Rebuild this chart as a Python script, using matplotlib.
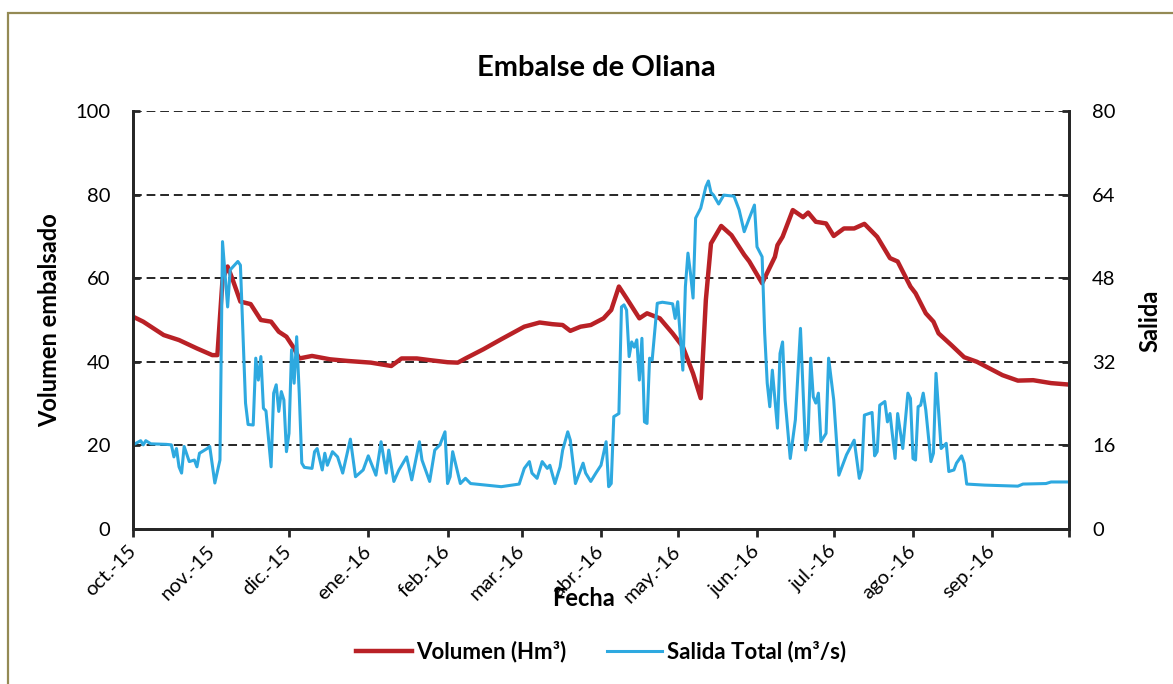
import numpy as np
import pandas as pd
import matplotlib
matplotlib.use("Agg")
import matplotlib.pyplot as plt
from matplotlib.patches import Rectangle

plt.rcParams["font.family"] = ["Lato", "DejaVu Sans"]

# days counted from 1 Oct 2015
start = pd.Timestamp("2015-10-01")

vol_days = [0, 4, 12, 18, 25, 31, 33, 35, 37, 39, 42, 46, 50, 54, 57, 60, 63, 65, 70, 77,
            84, 93, 101, 105, 111, 116, 123, 127, 130, 137, 144, 147, 153, 159, 164, 168,
            171, 175, 179, 184, 187, 190, 193, 198, 201, 206, 211, 215, 219, 222, 224, 226,
            230, 234, 239, 241, 246, 251, 252, 254, 258, 262, 264, 267, 271, 274, 278, 282,
            286, 291, 296, 299, 304, 306, 310, 313, 315, 320, 325, 330, 335, 340, 346, 352,
            359, 365]
volumen = [50.8, 49.6, 46.4, 45.2, 43.2, 41.6, 41.6, 59.6, 62.8, 59.6, 54.4, 53.8, 50.0,
           49.6, 47.2, 46.0, 43.2, 40.8, 41.4, 40.6, 40.2, 39.8, 39.0, 40.8, 40.8, 40.4,
           39.9, 39.8, 40.8, 43.0, 45.4, 46.4, 48.4, 49.4, 49.0, 48.8, 47.4, 48.4, 48.8,
           50.4, 52.4, 58.0, 55.2, 50.4, 51.6, 50.4, 46.8, 43.6, 37.2, 31.3, 54.8, 68.3,
           72.5, 70.3, 65.6, 64.0, 58.8, 65.1, 67.9, 69.9, 76.3, 74.6, 75.7, 73.5, 73.1,
           70.1, 71.9, 71.9, 73.0, 69.9, 64.8, 64.0, 58.0, 56.4, 51.6, 49.6, 46.8, 44.0,
           41.1, 40.0, 38.4, 36.8, 35.5, 35.6, 34.9, 34.6]

sal_days = [0, 3, 4, 5, 7, 13, 15, 16, 17, 18, 19, 20, 22, 24, 25, 26, 29, 30, 32, 34,
            35, 37, 38, 41, 42, 44, 45, 47, 48, 49, 50, 51, 52, 54, 55, 56, 57, 58, 59, 60,
            61, 62, 63, 64, 65, 66, 67, 70, 71, 72, 74, 75, 76, 78, 80, 82, 85, 87, 90, 92,
            95, 97, 99, 100, 102, 104, 107, 109, 112, 113, 116, 118, 120, 122, 123, 124, 125, 128, 130, 132,
            138, 144, 151, 153, 155, 156, 158, 160, 162, 163, 165, 167, 168, 170, 171, 173, 175, 176, 177, 179,
            181, 183, 185, 186, 187, 188, 190, 191, 192, 193, 194, 195, 196, 197, 198, 199, 200, 201, 202, 203,
            205, 207, 211, 212, 213, 215, 216, 217, 218, 219, 220, 222, 224, 225, 226, 227, 229, 231, 235, 237,
            239, 241, 243, 244, 246, 247, 248, 249, 250, 252, 253, 254, 255, 257, 259, 261, 263, 264, 265, 266,
            267, 268, 269, 271, 272, 274, 276, 279, 282, 284, 285, 286, 289, 290, 291, 292, 294, 295, 296, 298,
            299, 301, 303, 304, 305, 306, 307, 308, 309, 310, 312, 313, 314, 316, 318, 319, 321, 322, 324, 325,
            326, 333, 346, 348, 357, 359, 365]
salida = [16.1, 16.9, 16.1, 16.9, 16.3, 16.2, 16.1, 13.8, 15.4, 11.9, 10.7, 15.8, 12.9, 13.2, 11.9, 14.5, 15.4, 15.8, 8.8, 13.2,
          55.0, 42.5, 49.6, 51.2, 50.5, 24.1, 20.0, 19.9, 32.7, 28.5, 33.0, 23.1, 22.6, 11.9, 26.0, 27.6, 22.5, 26.3, 24.7, 14.8,
          18.3, 34.3, 27.9, 36.8, 26.0, 12.6, 11.8, 11.6, 14.8, 15.4, 11.3, 14.5, 12.2, 14.8, 13.8, 10.7, 17.2, 10.0, 11.3, 14.0,
          10.3, 16.7, 10.7, 15.1, 9.1, 11.3, 13.8, 9.4, 16.7, 13.2, 9.1, 15.1, 16.1, 18.6, 8.7, 10.0, 14.8, 8.7, 9.7, 8.7,
          8.4, 8.1, 8.6, 11.6, 12.9, 10.7, 9.7, 12.9, 11.6, 12.2, 8.7, 11.9, 15.1, 18.6, 17.0, 8.7, 11.3, 12.6, 10.7, 9.1,
          10.7, 12.2, 16.7, 8.1, 8.7, 21.5, 22.1, 42.5, 42.9, 41.9, 33.0, 35.8, 34.8, 36.2, 28.5, 36.5, 20.5, 20.2, 32.7, 32.3,
          43.2, 43.4, 43.1, 40.3, 43.5, 30.4, 46.4, 52.8, 48.9, 44.2, 59.5, 61.4, 65.5, 66.6, 64.4, 63.9, 62.2, 63.9, 63.7, 61.1,
          56.9, 59.5, 62.0, 54.0, 52.1, 37.5, 27.9, 23.4, 30.4, 19.3, 33.6, 35.8, 24.7, 13.5, 20.9, 38.4, 15.1, 18.3, 32.7, 25.3,
          24.1, 26.0, 16.7, 18.3, 32.7, 24.7, 10.3, 14.2, 17.0, 9.7, 11.3, 21.8, 22.3, 14.0, 14.8, 23.7, 24.4, 20.5, 22.1, 13.5,
          22.1, 15.4, 26.0, 25.0, 13.5, 13.2, 23.4, 23.7, 26.0, 22.8, 12.9, 14.5, 29.8, 15.4, 16.4, 11.0, 11.3, 12.6, 14.0, 12.6,
          8.6, 8.4, 8.2, 8.6, 8.7, 9.0, 9.0]

meses = ["oct.-15", "nov.-15", "dic.-15", "ene.-16", "feb.-16", "mar.-16",
         "abr.-16", "may.-16", "jun.-16", "jul.-16", "ago.-16", "sep.-16", ""]

vol_dates = start + pd.to_timedelta(vol_days, unit="D")
sal_dates = start + pd.to_timedelta(sal_days, unit="D")

red = "#B92126"
blue = "#2EA9E0"
ink = "#262626"

fig = plt.figure(figsize=(11.73, 6.84), dpi=100)
fig.patches.append(Rectangle((8 / 1173, -0.1), 1.2, 1 - 13 / 684 + 0.1,
                             transform=fig.transFigure, fill=False,
                             edgecolor="#948A54", linewidth=1.6))

ax = fig.add_axes([133 / 1173, 1 - 529 / 684, 936 / 1173, 418 / 684])
ax2 = ax.twinx()

ax.plot(vol_dates, volumen, color=red, linewidth=3.2, solid_joinstyle="round",
        label="Volumen (Hm³)")
ax2.plot(sal_dates, salida, color=blue, linewidth=2.2, solid_joinstyle="round",
         label="Salida Total (m³/s)")

ax.set_xlim(start, start + pd.Timedelta(days=366))
ax.set_ylim(0, 100)
ax2.set_ylim(0, 80)
ax.set_yticks(np.arange(0, 101, 20))
ax2.set_yticks(np.arange(0, 81, 16))

month_ticks = pd.date_range(start, periods=13, freq="MS")
ax.set_xticks(month_ticks)
ax.set_xticklabels(meses, rotation=45, ha="right", va="center", rotation_mode="anchor")

ax.grid(axis="y", color=ink, linestyle=(0, (4.5, 2.5)), linewidth=1.4)
ax.set_axisbelow(True)

for a in (ax, ax2):
    a.spines["top"].set_visible(False)
    for s in ("left", "right", "bottom"):
        a.spines[s].set_color(ink)
        a.spines[s].set_linewidth(2.0)

ax.tick_params(axis="x", direction="out", length=6, width=2, color=ink,
               labelsize=14.5, pad=8)
ax.tick_params(axis="y", direction="in", length=5, width=2, color=ink,
               labelsize=14.5, pad=16.5)
ax2.tick_params(axis="y", direction="in", length=5, width=2, color=ink,
                labelsize=14.5, pad=16.5)

fig.text(50 / 1173, 1 - 320 / 684, "Volumen embalsado", fontsize=17, fontweight="bold",
         rotation=90, ha="center", va="center")
fig.text(1150 / 1173, 1 - 321 / 684, "Salida", fontsize=17, fontweight="bold",
         rotation=90, ha="center", va="center")
fig.text(584 / 1173, 1 - 598 / 684, "Fecha", fontsize=17, fontweight="bold",
         ha="center", va="center")
fig.text(596 / 1173, 1 - 68 / 684, "Embalse de Oliana", fontsize=21,
         fontweight="bold", ha="center", va="center")

h1, l1 = ax.get_legend_handles_labels()
h2, l2 = ax2.get_legend_handles_labels()
fig.legend(h1 + h2, l1 + l2, loc="center", bbox_to_anchor=(601 / 1173, 1 - 652 / 684),
           ncol=2, frameon=False, handlelength=2.5, handletextpad=0.2,
           columnspacing=1.8, prop={"size": 16, "weight": "bold"})

fig.savefig("out.png", dpi=100)
